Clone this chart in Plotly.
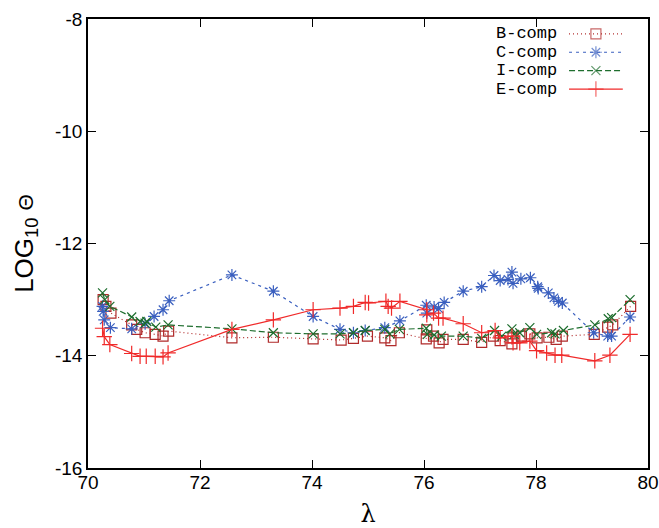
import plotly.graph_objects as go

# ---------------- data ----------------
b_x = [70.27, 70.32, 70.41, 70.78, 70.87, 71.02, 71.20, 71.34, 71.44, 72.57, 73.31, 74.02,
       74.52, 74.74, 74.99, 75.30, 75.41, 75.56, 76.04, 76.05, 76.17, 76.27, 76.34, 76.70,
       77.03, 77.24, 77.36, 77.57, 77.59, 77.74, 77.89, 78.02, 78.23, 78.36, 78.47, 79.04,
       79.28, 79.37, 79.69]
b_y = [-13.00, -13.12, -13.24, -13.45, -13.53, -13.59, -13.62, -13.65, -13.56, -13.68, -13.67, -13.70,
       -13.72, -13.69, -13.65, -13.68, -13.73, -13.59, -13.70, -13.54, -13.65, -13.77, -13.71, -13.71,
       -13.76, -13.65, -13.73, -13.79, -13.68, -13.65, -13.61, -13.68, -13.67, -13.71, -13.65, -13.62,
       -13.49, -13.45, -13.12]

c_x = [70.26, 70.27, 70.29, 70.40, 70.78, 71.02, 71.18, 71.34, 71.45, 72.57, 73.31, 74.02,
       74.50, 74.74, 74.95, 75.30, 75.57, 76.04, 76.05, 76.18, 76.26, 76.36, 76.70, 77.03,
       77.25, 77.36, 77.50, 77.57, 77.59, 77.73, 77.90, 78.03, 78.04, 78.22, 78.32, 78.40,
       78.47, 79.03, 79.28, 79.35, 79.68]
c_y = [-13.12, -13.21, -13.36, -13.50, -13.52, -13.43, -13.30, -13.18, -13.02, -12.56, -12.85, -13.30,
       -13.53, -13.59, -13.55, -13.50, -13.38, -13.10, -13.24, -13.13, -13.16, -13.05, -12.85, -12.77,
       -12.57, -12.66, -12.64, -12.51, -12.71, -12.63, -12.61, -12.77, -12.80, -12.88, -12.97, -13.03,
       -13.06, -13.59, -13.65, -13.65, -13.31]

i_x = [70.26, 70.30, 70.39, 70.78, 70.93, 71.02, 71.05, 71.21, 71.43, 72.57, 73.31, 74.02,
       74.50, 74.74, 74.95, 75.30, 75.39, 75.56, 76.04, 76.06, 76.18, 76.31, 76.70, 77.03,
       77.26, 77.39, 77.57, 77.61, 77.71, 77.89, 78.01, 78.28, 78.34, 78.49, 79.05, 79.29,
       79.35, 79.68]
i_y = [-12.88, -13.00, -13.12, -13.31, -13.39, -13.42, -13.39, -13.49, -13.45, -13.52, -13.59, -13.61,
       -13.61, -13.59, -13.55, -13.53, -13.61, -13.53, -13.51, -13.62, -13.63, -13.65, -13.65, -13.69,
       -13.55, -13.65, -13.52, -13.62, -13.59, -13.50, -13.62, -13.59, -13.61, -13.55, -13.45, -13.34,
       -13.32, -13.00]

e_x = [70.26, 70.29, 70.39, 70.78, 70.93, 71.04, 71.20, 71.34, 71.43, 72.57, 73.31, 74.02,
       74.50, 74.74, 74.95, 75.01, 75.32, 75.36, 75.42, 75.57, 76.05, 76.05, 76.17, 76.26,
       76.34, 76.70, 77.03, 77.27, 77.36, 77.57, 77.59, 77.71, 77.89, 78.01, 78.19, 78.34,
       78.46, 79.05, 79.32, 79.68]
e_y = [-13.51, -13.66, -13.80, -13.96, -14.01, -14.01, -14.01, -14.02, -13.95, -13.53, -13.36, -13.18,
       -13.15, -13.12, -13.05, -13.06, -13.03, -13.12, -13.15, -13.03, -13.18, -13.27, -13.24, -13.33,
       -13.33, -13.43, -13.59, -13.55, -13.68, -13.65, -13.77, -13.77, -13.74, -13.91, -13.95, -13.99,
       -13.99, -14.09, -13.99, -13.62]

series_names = ["B-comp", "C-comp", "I-comp", "E-comp"]
x_ticks = [70, 72, 74, 76, 78, 80]
y_ticks = [-16, -14, -12, -10, -8]

# ---------------- styles ----------------
styles = {
    "B-comp": dict(color="#b02a2a", dash="1px,3px", symbol="square-open", size=10),
    "C-comp": dict(color="#3a5fbf", dash="3px,4px", symbol="asterisk-open", size=10),
    "I-comp": dict(color="#1e6e2e", dash="6px,3px", symbol="x-thin-open", size=9),
    "E-comp": dict(color="#f02a2a", dash="solid", symbol="cross-thin-open", size=11),
}
data = {"B-comp": (b_x, b_y), "C-comp": (c_x, c_y), "I-comp": (i_x, i_y), "E-comp": (e_x, e_y)}

fig = go.Figure()
for name in series_names:
    s = styles[name]
    xs, ys = data[name]
    fig.add_trace(go.Scatter(
        x=xs, y=ys, mode="lines+markers", name=name, showlegend=False,
        line=dict(color=s["color"], width=1.2, dash=s["dash"]),
        marker=dict(symbol=s["symbol"], size=s["size"], color=s["color"],
                    line=dict(color=s["color"], width=1.2)),
    ))

# gnuplot-style key (text left, sample right) on an overlay axis in [0,1] units
key_text_x = 0.840
key_line = [0.859, 0.907, 0.955]
key_rows = [0.967, 0.926, 0.885, 0.844]
for name, ky in zip(series_names, key_rows):
    s = styles[name]
    fig.add_trace(go.Scatter(
        x=key_line, y=[ky] * 3, xaxis="x2", yaxis="y2", mode="lines+markers", showlegend=False,
        hoverinfo="skip",
        line=dict(color=s["color"], width=1.2, dash=s["dash"]),
        marker=dict(symbol=s["symbol"], size=[0, s["size"], 0], color=s["color"],
                    line=dict(color=s["color"], width=1.2)),
    ))
    fig.add_annotation(x=key_text_x, y=ky, xref="paper", yref="paper", text=name,
                       showarrow=False, xanchor="right", yanchor="middle", borderpad=0,
                       font=dict(family="Liberation Mono, Courier New, monospace", size=17, color="black"))

axis_common = dict(showline=True, linecolor="black", linewidth=1.5, mirror="ticks",
                   ticks="inside", ticklen=8, tickcolor="black", tickwidth=1,
                   showgrid=False, zeroline=False, automargin=False,
                   tickfont=dict(family="Liberation Sans, Arial, sans-serif", size=19, color="black"))

fig.update_layout(
    width=659, height=528,
    margin=dict(l=88, r=11, t=19, b=60),
    paper_bgcolor="white", plot_bgcolor="white",
    xaxis=dict(range=[70, 80], tickvals=x_ticks, ticktext=[str(v) for v in x_ticks],
               title=dict(text="λ", font=dict(family="DejaVu Serif, serif", size=24, color="black"),
                          standoff=18),
               **axis_common),
    yaxis=dict(range=[-16, -8], tickvals=y_ticks, ticktext=[str(v) for v in y_ticks],
               title=dict(text="LOG<sub>10</sub> <span style='font-size:21px'>Θ</span>",
                          font=dict(family="Liberation Sans, Arial, sans-serif", size=26, color="black"),
                          standoff=14),
               **axis_common),
    xaxis2=dict(overlaying="x", range=[0, 1], visible=False),
    yaxis2=dict(overlaying="y", range=[0, 1], visible=False),
)

try:
    fig.update_xaxes(ticklabelstandoff=-4, selector=dict(overlaying=None))
except Exception:
    pass

fig.write_html("out.html")
